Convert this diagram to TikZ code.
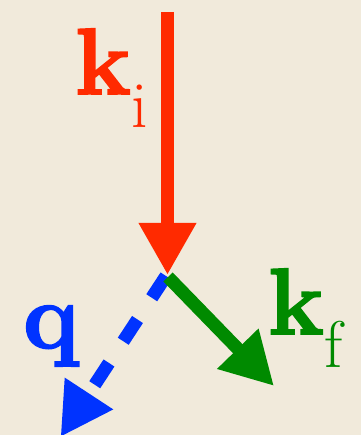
\documentclass[tikz,border=0pt]{standalone}
\usepackage{fontspec}
\setmainfont{Latin Modern Roman}[BoldFeatures={FakeBold=2}]
\usepackage{xcolor}
\usepackage{tikz}
\usetikzlibrary{arrows.meta}

\definecolor{paper}{HTML}{F1EADB}
\definecolor{kired}{HTML}{FF2A00}
\definecolor{kfgreen}{HTML}{008A00}
\definecolor{qblue}{HTML}{0033FF}

\newcommand{\wavevec}[2]{\textbf{#1}\raisebox{-34pt}{\fontsize{66}{66}\selectfont #2}}

\begin{document}
\begin{tikzpicture}[
    x=1pt, y=1pt,
    vec/.style={
        -{Triangle[length=52pt, width=54pt]},
        line width=13pt
    },
    lbl/.style={
        anchor=base west,
        inner sep=0pt,
        font=\fontsize{94}{94}\selectfont
    }
]

\fill[paper] (0,0) rectangle (361,435);
\useasboundingbox (0,0) rectangle (361,435);

\coordinate (source) at (167.5,423);
\coordinate (vertex) at (167.5,160);
\coordinate (kfstart) at (168,158);
\coordinate (kfend) at (274,49);
\coordinate (qstart) at (166,159);
\coordinate (qend) at (60.5,-2);

\node[lbl, text=kired] (kilabel) at (75,341)
{\wavevec{k}{i}};

\node[lbl, text=kfgreen] (kflabel) at (268,101)
{\wavevec{k}{f}};

\node[lbl, text=qblue] (qlabel) at (23,87)
{\textbf{q}};

\draw[vec, qblue, dash pattern=on 26pt off 26pt] (qstart) -- (qend);
\draw[vec, kfgreen] (kfstart) -- (kfend);
\draw[vec, kired] (source) -- (vertex);

\end{tikzpicture}
\end{document}
